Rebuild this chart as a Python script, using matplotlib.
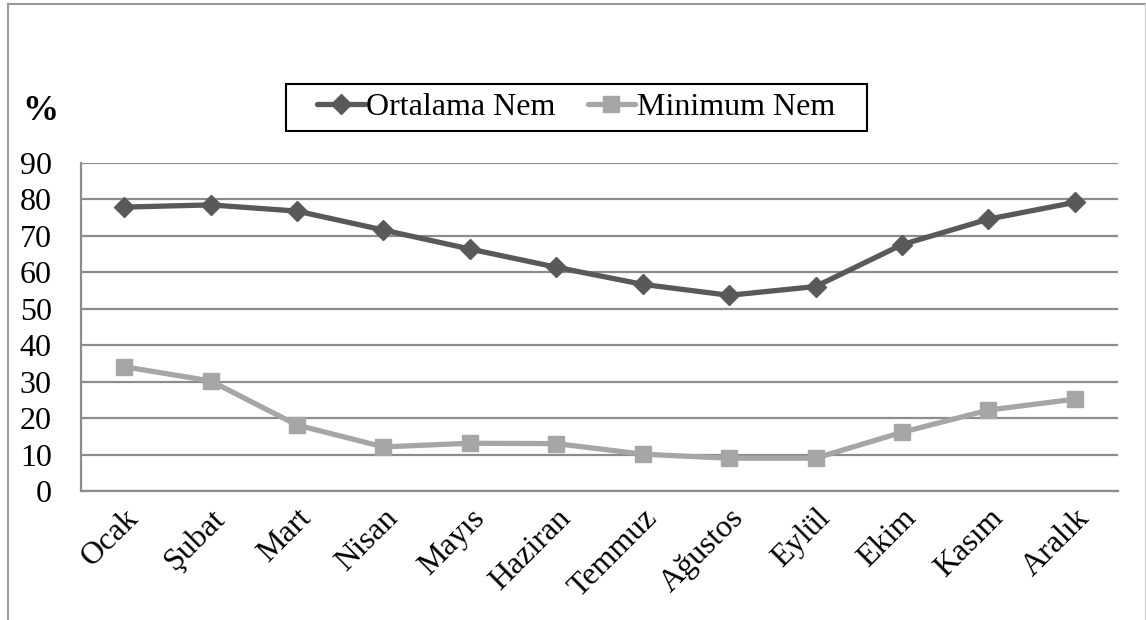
import numpy as np
import matplotlib.pyplot as plt
from matplotlib.lines import Line2D
from matplotlib.patches import Rectangle

months = ['Ocak', 'Şubat', 'Mart', 'Nisan', 'Mayıs', 'Haziran',
          'Temmuz', 'Ağustos', 'Eylül', 'Ekim', 'Kasım', 'Aralık']
ortalama = [77.9, 78.5, 76.8, 71.6, 66.4, 61.4, 56.7, 53.7, 56.1, 67.6, 74.6, 79.2]
minimum = [34.1, 30.2, 18.1, 12.1, 13.1, 13.0, 10.1, 9.0, 9.0, 16.1, 22.2, 25.2]
yticks = [0, 10, 20, 30, 40, 50, 60, 70, 80, 90]

plt.rcParams['font.family'] = ['Liberation Serif', 'DejaVu Serif']

dark = '#595959'
light = '#a6a6a6'
gridc = '#8c8c8c'

W, H = 1146, 620
fig = plt.figure(figsize=(W/100, H/100), dpi=100)
ax = fig.add_axes([81/W, 1 - 491/H, (1118 - 81)/W, (491 - 163)/H])

x = np.arange(len(months))
ax.plot(x, ortalama, color=dark, lw=3.8, marker='D', ms=10, mec=dark, mfc=dark,
        solid_capstyle='round', label='Ortalama Nem', zorder=3)
ax.plot(x, minimum, color=light, lw=3.8, marker='s', ms=11, mec=light, mfc=light,
        solid_capstyle='round', label='Minimum Nem', zorder=3)

ax.set_xlim(-0.5, len(months) - 0.5)
ax.set_ylim(0, 90)
ax.set_yticks(yticks)
ax.set_yticklabels([str(v) for v in yticks], fontsize=23)
ax.set_xticks(x)
ax.set_xticklabels(months, fontsize=23, rotation=45, ha='right', va='top',
                   rotation_mode='anchor')
ax.tick_params(axis='y', length=0, pad=21)
ax.tick_params(axis='x', length=0, pad=9)
ax.yaxis.grid(True, color=gridc, lw=1.6)
ax.set_axisbelow(True)
for s in ['top', 'right']:
    ax.spines[s].set_visible(False)
for s in ['left', 'bottom']:
    ax.spines[s].set_color(gridc)
    ax.spines[s].set_linewidth(1.6)

# legend content without frame, box drawn separately
handles = [Line2D([], [], color=dark, lw=3.8, marker='D', ms=10, solid_capstyle='round'),
           Line2D([], [], color=light, lw=3.8, marker='s', ms=11, solid_capstyle='round')]
fig.legend(handles, ['Ortalama Nem', 'Minimum Nem'], ncol=2, fontsize=23,
           loc='center', bbox_to_anchor=(576/W, 1 - 107/H), frameon=False,
           handlelength=1.5, handletextpad=0.05, columnspacing=1.0,
           borderpad=0.3, borderaxespad=0)
fig.add_artist(Rectangle((286/W, 1 - 131/H), (867 - 286)/W, (131 - 84)/H,
                         transform=fig.transFigure, fill=False,
                         edgecolor='black', lw=1.5))

fig.text(22/W, 1 - 112/H, '%', fontsize=26, fontweight='bold', va='center', ha='left')

# outer frame
fig.add_artist(Line2D([8/W, 8/W], [0, 1 - 4/H], color='#9a9a9a', lw=1.5))
fig.add_artist(Line2D([8/W, 1145/W], [1 - 4/H, 1 - 4/H], color='#9a9a9a', lw=1.5))
fig.add_artist(Line2D([1145/W, 1145/W], [0, 1 - 4/H], color='#d0d0d0', lw=1.0))

fig.savefig('out.png', dpi=100)
